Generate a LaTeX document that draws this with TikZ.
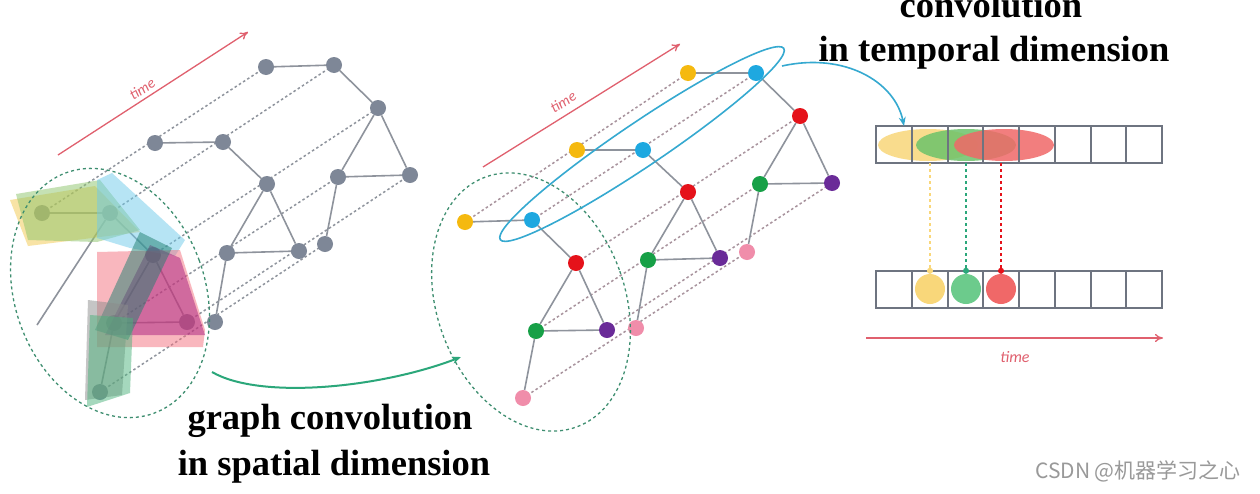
\documentclass[tikz,border=0pt]{standalone}
\usepackage{fontspec}
\setmainfont{Liberation Serif}
\newfontfamily\carl{Carlito}
\newfontfamily\cjk{Noto Sans CJK SC}
\usetikzlibrary{arrows.meta,shapes.geometric,backgrounds}
\definecolor{ngray}{HTML}{7E8797}
\definecolor{egray}{HTML}{8E939C}
\definecolor{dgray}{HTML}{8F949D}
\definecolor{mdot}{HTML}{A8939D}
\definecolor{cyel}{HTML}{F5B90F}
\definecolor{cblue}{HTML}{1EA8E0}
\definecolor{cred}{HTML}{E5121A}
\definecolor{cgrn}{HTML}{17A047}
\definecolor{cpur}{HTML}{6A2B98}
\definecolor{cpink}{HTML}{F08DAA}
\definecolor{tred}{HTML}{E0606E}
\definecolor{gdash}{HTML}{3E8E70}
\definecolor{arrgrn}{HTML}{2BA77A}
\definecolor{ecyan}{HTML}{35A9D0}
\definecolor{agray}{HTML}{6E7480}
\definecolor{pyel}{HTML}{F2C94C}
\definecolor{plgr}{HTML}{8CC46A}
\definecolor{pblu}{HTML}{6FCBEA}
\definecolor{ppnk}{HTML}{F5707E}
\definecolor{pmag}{HTML}{A81F80}
\definecolor{pteal}{HTML}{1F7F70}
\definecolor{pmint}{HTML}{4DB37C}
\definecolor{pgry}{HTML}{8C8C8C}
\definecolor{fyel}{HTML}{F9D77A}
\definecolor{fgrn}{HTML}{6DC36A}
\definecolor{fred}{HTML}{F06868}
\definecolor{bmint}{HTML}{6CCB8C}
\tikzset{
  gnode/.style={circle,fill=ngray,inner sep=0pt,minimum size=16pt},
  cnode/.style={circle,fill=#1,inner sep=0pt,minimum size=16pt},
  edge/.style={draw=egray,line width=1.6pt},
  dotl/.style={draw=#1,line width=1.5pt,dash pattern=on 2.5pt off 2.5pt},
  poly/.style={fill=#1,fill opacity=0.5,draw=none},
  grpell/.style={draw=gdash,dashed,line width=1.3pt,ellipse,inner sep=0pt},
  cell/.style={draw=agray,line width=2pt,minimum width=35.75pt,minimum height=37pt,inner sep=0pt},
  blob/.style={ellipse,fill=#1,fill opacity=0.85,minimum width=100pt,minimum height=32pt,inner sep=0pt},
  dot/.style={circle,fill=#1,inner sep=0pt,minimum size=30pt},
  vdash/.style={draw=#1,line width=1.3pt,dashed,-{Circle[length=6pt]}},
  timearr/.style={draw=tred,line width=1.3pt,-{To[length=8pt,width=8pt]}},
  timelab/.style={text=tred,font=\carl\itshape\fontsize{15}{17}\selectfont},
  bigtxt/.style={font=\bfseries\fontsize{36.5}{44}\selectfont,anchor=base},
}
\begin{document}
\begin{tikzpicture}[x=1pt,y=-1pt]
\useasboundingbox (0,0) rectangle (1260,493);

% ---------- left graph ----------
\node[gnode] (L1a) at (42,213) {};
\node[gnode] (L1b) at (110,213) {};
\node[gnode] (L1c) at (153,255) {};
\node[gnode] (L1d) at (114,323) {};
\node[gnode] (L1e) at (187,322) {};
\node[gnode] (L1f) at (100,392) {};
\node[gnode] (L2a) at (155,143) {};
\node[gnode] (L2b) at (223,142) {};
\node[gnode] (L2c) at (267,184) {};
\node[gnode] (L2d) at (227,253) {};
\node[gnode] (L2e) at (299,251) {};
\node[gnode] (L2f) at (215,322) {};
\node[gnode] (L3a) at (266,67) {};
\node[gnode] (L3b) at (334,65) {};
\node[gnode] (L3c) at (378,108) {};
\node[gnode] (L3d) at (338,177) {};
\node[gnode] (L3e) at (410,175) {};
\node[gnode] (L3f) at (325,244) {};
\coordinate (Lx) at (37,325);

% ---------- middle graph nodes ----------
\node[cnode=cyel] (M1a) at (465,222) {};
\node[cnode=cblue] (M1b) at (532,220) {};
\node[cnode=cred] (M1c) at (576,263) {};
\node[cnode=cgrn] (M1d) at (536,331) {};
\node[cnode=cpur] (M1e) at (607,330) {};
\node[cnode=cpink] (M1f) at (523,398) {};
\node[cnode=cyel] (M2a) at (577,150) {};
\node[cnode=cblue] (M2b) at (643,150) {};
\node[cnode=cred] (M2c) at (688,192) {};
\node[cnode=cgrn] (M2d) at (648,260) {};
\node[cnode=cpur] (M2e) at (720,258) {};
\node[cnode=cpink] (M2f) at (636,328) {};
\node[cnode=cyel] (M3a) at (688,73) {};
\node[cnode=cblue] (M3b) at (756,73) {};
\node[cnode=cred] (M3c) at (800,116) {};
\node[cnode=cgrn] (M3d) at (760,184) {};
\node[cnode=cpur] (M3e) at (832,183) {};
\node[cnode=cpink] (M3f) at (747,252) {};

\begin{scope}[on background layer]
\fill[white] (0,0) rectangle (1260,493);
\foreach \n in {a,b,c,d,e,f}{
  \draw[dotl=dgray] (L1\n.center) -- (L3\n.center);
  \draw[dotl=mdot] (M1\n.center) -- (M3\n.center);
}
\end{scope}

\foreach \l in {1,2,3}{
  \draw[edge] (L\l a) -- (L\l b);
  \draw[edge] (L\l b) -- (L\l c);
  \draw[edge] (L\l c) -- (L\l d);
  \draw[edge] (L\l c) -- (L\l e);
  \draw[edge] (L\l d) -- (L\l e);
  \draw[edge] (L\l d) -- (L\l f);
  \draw[edge] (M\l a) -- (M\l b);
  \draw[edge] (M\l b) -- (M\l c);
  \draw[edge] (M\l c) -- (M\l d);
  \draw[edge] (M\l c) -- (M\l e);
  \draw[edge] (M\l d) -- (M\l e);
  \draw[edge] (M\l d) -- (M\l f);
}
\draw[edge] (L1b) -- (Lx);

% translucent patches
\fill[poly=pyel] (10,200) -- (95,186) -- (140,232) -- (28,246) -- cycle;
\fill[poly=plgr] (16,194) -- (100,180) -- (140,230) -- (97,242) -- (28,240) -- cycle;
\fill[poly=pblu] (97,180) -- (112,173) -- (185,240) -- (175,256) -- (130,248) -- (97,238) -- cycle;
\fill[poly=ppnk] (97,252) -- (180,250) -- (205,330) -- (203,347) -- (97,347) -- cycle;
\fill[poly=pmag] (150,245) -- (180,258) -- (205,335) -- (105,335) -- cycle;
\fill[poly=pteal] (140,232) -- (172,248) -- (128,340) -- (95,330) -- cycle;
\fill[poly=pgry] (88,300) -- (128,305) -- (122,395) -- (85,400) -- cycle;
\fill[poly=pmint] (90,315) -- (133,318) -- (130,393) -- (87,407) -- cycle;

\node[grpell,minimum width=190pt,minimum height=256pt,rotate=20] (ellL) at (110,293) {};

% left time arrow
\coordinate (tl0) at (58,155);
\coordinate (tl1) at (248,32);
\draw[timearr] (tl0) -- (tl1);
\node[timelab,rotate=33] (tlL) at (142,89) {time};

\node[grpell,minimum width=188pt,minimum height=266pt,rotate=20] (ellM) at (531,302) {};
\node[ellipse,draw=ecyan,line width=1.6pt,minimum width=342pt,minimum height=44pt,inner sep=0pt,rotate=34] (ellB) at (642,144) {};

% middle time arrow
\coordinate (tm0) at (483,167);
\coordinate (tm1) at (680,44);
\draw[timearr] (tm0) -- (tm1);
\node[timelab,rotate=32] (tlM) at (563,102) {time};

% green arrow
\coordinate (ga0) at (212,372);
\coordinate (ga1) at (461,357);
\draw[arrgrn,line width=2pt,-{Stealth[length=9pt,width=7pt]}] (ga0) .. controls (260,400) and (380,388) .. (ga1);

% ---------- right: arrays ----------
\node[blob=fyel] (eY) at (928,145) {};
\node[blob=fgrn] (eG) at (966,145) {};
\node[blob=fred] (eR) at (1004,145) {};
\foreach \i in {0,...,7}{
  \node[cell] (t\i) at ({894+35.75*\i},144.5) {};
  \node[cell] (b\i) at ({894+35.75*\i},289) {};
}
\node[dot=fyel] (cY) at (930,289) {};
\node[dot=bmint] (cG) at (966,289) {};
\node[dot=fred] (cR) at (1001,289) {};
\draw[vdash=fyel] (930,163) -- (cY.north);
\draw[vdash=arrgrn] (966,163) -- (cG.north);
\draw[vdash=cred] (1001,163) -- (cR.north);

% cyan arrow
\coordinate (ca0) at (782,66);
\coordinate (ca1) at (904,126);
\draw[ecyan,line width=1.6pt,-{Stealth[length=9pt,width=7pt]}] (ca0) .. controls (845,52) and (895,82) .. (ca1);

% bottom time arrow
\coordinate (tb0) at (866,338);
\coordinate (tb1) at (1163,338);
\draw[timearr] (tb0) -- (tb1);
\node[timelab,font=\carl\itshape\fontsize{16}{18}\selectfont] (tlB) at (1015,357) {time};

% ---------- texts ----------
\node[bigtxt] (s1) at (330,429) {graph convolution};
\node[bigtxt] (s2) at (334,475) {in spatial dimension};
\node[bigtxt] (t1) at (991,17) {convolution};
\node[bigtxt] (t2) at (994,61) {in temporal dimension};
\node[font=\cjk\fontsize{21}{24}\selectfont,text=gray!80,anchor=base] (wm) at (1138,478) {CSDN @机器学习之心};
\end{tikzpicture}
\end{document}
